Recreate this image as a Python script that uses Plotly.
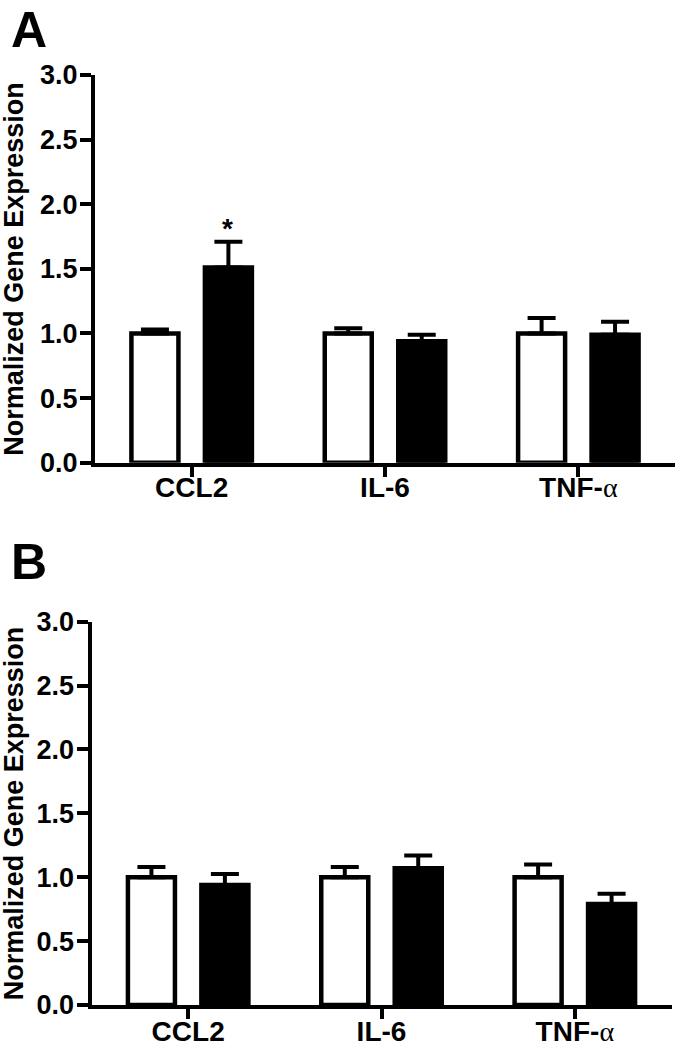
import plotly.graph_objects as go

categories = ["CCL2", "IL-6", "TNF-α"]
tick_labels = ["CCL2", "IL-6", "TNF-<span style=\"font-family:'Liberation Serif';font-weight:normal\">α</span>"]

a_control = [1.0, 1.0, 1.0]
a_control_err = [0.03, 0.04, 0.12]
a_treated = [1.51, 0.94, 0.99]
a_treated_err = [0.20, 0.05, 0.10]

b_control = [1.0, 1.0, 1.0]
b_control_err = [0.08, 0.08, 0.10]
b_treated = [0.94, 1.07, 0.79]
b_treated_err = [0.085, 0.10, 0.08]

y_ticks = [0.0, 0.5, 1.0, 1.5, 2.0, 2.5, 3.0]

FONT = "Liberation Sans, Arial, sans-serif"
W, H = 677, 1050

fig = go.Figure()

def add_panel(ctrl, ctrl_err, trt, trt_err, xa, ya):
    fig.add_trace(go.Bar(
        x=categories, y=ctrl, xaxis=xa, yaxis=ya,
        marker=dict(color="white", line=dict(color="black", width=4.5)),
        error_y=dict(type="data", symmetric=False, array=ctrl_err,
                     arrayminus=[0] * len(ctrl_err), color="black",
                     thickness=4, width=14),
        showlegend=False, offsetgroup="c"))
    fig.add_trace(go.Bar(
        x=categories, y=trt, xaxis=xa, yaxis=ya,
        marker=dict(color="black", line=dict(color="black", width=4.5)),
        error_y=dict(type="data", symmetric=False, array=trt_err,
                     arrayminus=[0] * len(trt_err), color="black",
                     thickness=4, width=14),
        showlegend=False, offsetgroup="t"))

add_panel(a_control, a_control_err, a_treated, a_treated_err, "x", "y")
add_panel(b_control, b_control_err, b_treated, b_treated_err, "x2", "y2")

axis_common_x = dict(
    range=[-0.5, 2.5], showline=True, linecolor="black", linewidth=4,
    ticks="outside", ticklen=10, tickwidth=3.5, tickcolor="black",
    showgrid=False, zeroline=False, automargin=False,
    tickmode="array", tickvals=categories, ticktext=tick_labels,
    tickfont=dict(family=FONT, size=28, color="black", weight="bold"),
)
axis_common_y = dict(
    range=[0, 3], showline=True, linecolor="black", linewidth=4,
    ticks="outside", ticklen=11, tickwidth=3.5, tickcolor="black",
    showgrid=False, zeroline=False, automargin=False,
    tickmode="array", tickvals=y_ticks, ticktext=[f"{v:.1f}" for v in y_ticks],
    ticklabelstandoff=-3,
    tickfont=dict(family=FONT, size=27, color="black", weight="bold"),
)

yA_top, yA_bot = 75, 462.7
yB_top, yB_bot = 621.7, 1005

fig.update_layout(
    width=W, height=H, margin=dict(l=0, r=0, t=0, b=0),
    paper_bgcolor="white", plot_bgcolor="white",
    barmode="group", bargap=0.24, bargroupgap=0.36,
    xaxis=dict(axis_common_x, domain=[95 / W, 675 / W], anchor="y", ticklabelstandoff=-13),
    yaxis=dict(axis_common_y, domain=[1 - yA_bot / H, 1 - yA_top / H], anchor="x"),
    xaxis2=dict(axis_common_x, domain=[91.5 / W, 671.5 / W], anchor="y2", ticklabelstandoff=-12),
    yaxis2=dict(axis_common_y, domain=[1 - yB_bot / H, 1 - yB_top / H], anchor="x2"),
)

title_font = dict(family=FONT, size=27, color="black", weight="bold")
for ytop, ybot in [(yA_top, yA_bot), (yB_top, yB_bot)]:
    fig.add_annotation(
        text="Normalized Gene Expression", textangle=-90,
        xref="paper", yref="paper", x=14 / W, y=1 - (ytop + ybot) / 2 / H,
        xanchor="center", yanchor="middle", showarrow=False, font=title_font)

panel_font = dict(family=FONT, size=50, color="black", weight="bold")
fig.add_annotation(text="A", xref="paper", yref="paper", x=9 / W, y=1,
                   xanchor="left", yanchor="top", showarrow=False, font=panel_font)
fig.add_annotation(text="B", xref="paper", yref="paper", x=9 / W, y=1 - 532 / H,
                   xanchor="left", yanchor="top", showarrow=False, font=panel_font)

fig.add_annotation(text="*", xref="x", yref="y", x="CCL2", xshift=36, y=1.81,
                   xanchor="center", yanchor="middle", showarrow=False,
                   font=dict(family=FONT, size=28, color="black", weight="bold"))

fig.write_html("out.html", config={"displayModeBar": False},
               post_script="document.body.style.margin='0px';document.body.style.overflow='hidden';")
